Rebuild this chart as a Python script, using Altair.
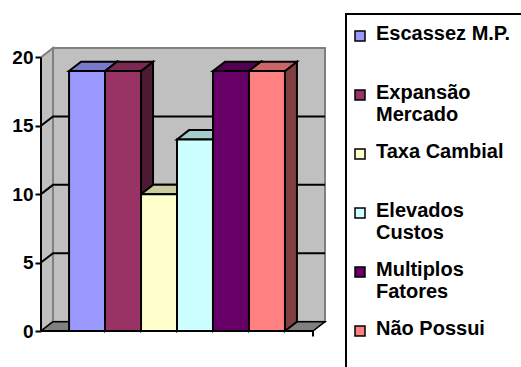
import altair as alt
import pandas as pd

# Survey categories and counts
categories = ["Escassez M.P.", "Expansão Mercado", "Taxa Cambial",
              "Elevados Custos", "Multiplos Fatores", "Não Possui"]
values = [19, 19, 10, 14, 19, 19]

# legend text, one list entry per line
legend_lines = [["Escassez M.P.", " "], ["Expansão", "Mercado"], ["Taxa Cambial", " "],
                ["Elevados", "Custos"], ["Multiplos", "Fatores"], ["Não Possui", " "]]

front_colors = ["#9999FF", "#993366", "#FFFFCC", "#CCFFFF", "#660066", "#FF8080"]
top_colors = ["#7A7ACC", "#7A2952", "#CCCCA3", "#A3CCCC", "#520052", "#CC6666"]
side_colors = ["#4D4D80", "#4D1A33", "#808066", "#668080", "#330033", "#804040"]

y_ticks = [0, 5, 10, 15, 20]

# 3-D look: depth shift of the back plane (x in bar widths, y in value units)
DX = 1 / 3
DY = 0.68
X0, X1 = -0.78, 6.78          # front edge of the floor
Y_TOP = 20
FONT = "Liberation Sans"

# legend swatch: a square lowered so it sits beside the first text line
SWATCH = "M-1,1.4H1V3.4H-1Z"

bars = pd.DataFrame({
    "cat": categories, "v": values,
    "l": range(len(values)),
})
bars["r"] = bars["l"] + 1
bars["base"] = 0

side_rows, top_rows = [], []
for i, (c, v) in enumerate(zip(categories, values)):
    for k in (0, 1):
        side_rows.append({"cat": c, "k": k, "x": i + 1 + k * DX,
                          "y": v + k * DY, "y2": k * DY, "col": side_colors[i]})
        top_rows.append({"cat": c, "k": k, "y": v + k * DY,
                         "x": i + k * DX, "x2": i + 1 + k * DX, "col": top_colors[i]})
side = pd.DataFrame(side_rows)
top = pd.DataFrame(top_rows)

xs = alt.Scale(domain=[X0, X1 + DX], nice=False, zero=False)
ys = alt.Scale(domain=[0, Y_TOP + DY], nice=False, zero=False)
y_axis = alt.Axis(
    values=y_ticks, domain=False, grid=False, ticks=True, tickSize=6,
    tickWidth=2, tickColor="black", labelFont=FONT, labelFontSize=19,
    labelFontWeight="bold", labelColor="black", labelPadding=2, title=None)


def X(f):
    return alt.X(f, type="quantitative", scale=xs, axis=None, stack=None)


def Y(f):
    return alt.Y(f, type="quantitative", scale=ys, axis=y_axis, stack=None)


# walls and floor
left_wall = alt.Chart(pd.DataFrame({
    "x": [X0, X0 + DX], "y": [Y_TOP, Y_TOP + DY], "y2": [0, DY]})).mark_area(
    fill="#C0C0C0", stroke="#808080", strokeWidth=2).encode(
    x=X("x"), y=Y("y"), y2="y2:Q")

back_wall = alt.Chart(pd.DataFrame({
    "x": [X0 + DX], "x2": [X1 + DX], "y": [DY], "y2": [Y_TOP + DY]})).mark_rect(
    fill="#C0C0C0", stroke="#808080", strokeWidth=2).encode(
    x=X("x"), x2="x2:Q", y=Y("y"), y2="y2:Q")

floor = alt.Chart(pd.DataFrame({
    "y": [0, DY], "x": [X0, X0 + DX], "x2": [X1, X1 + DX]})).mark_area(
    orient="horizontal", fill="#808080", stroke="black", strokeWidth=1.5).encode(
    y=Y("y"), x=X("x"), x2="x2:Q")

# gridlines: diagonal on the side wall, then across the back wall
grid_rows = []
for v in y_ticks[1:-1]:
    for k, (gx, gy) in enumerate([(X0, v), (X0 + DX, v + DY), (X1 + DX, v + DY)]):
        grid_rows.append({"v": v, "k": k, "x": gx, "y": gy})
grid = alt.Chart(pd.DataFrame(grid_rows)).mark_line(
    color="black", strokeWidth=2).encode(
    x=X("x"), y=Y("y"), detail="v:N", order="k:Q")

# bars: side faces, top faces, front faces
sides = alt.Chart(side).mark_area(stroke="black", strokeWidth=2, opacity=1).encode(
    x=X("x"), y=Y("y"), y2="y2:Q", detail="cat:N",
    fill=alt.Fill("col:N", scale=None))

tops = alt.Chart(top).mark_area(orient="horizontal", stroke="black",
                                strokeWidth=2, opacity=1).encode(
    y=Y("y"), x=X("x"), x2="x2:Q", detail="cat:N",
    fill=alt.Fill("col:N", scale=None))

label_expr = " : ".join(
    f"datum.label == '{c}' ? {lines!r}" for c, lines in zip(categories, legend_lines)
) + " : datum.label"

fronts = alt.Chart(bars).mark_rect(stroke="black", strokeWidth=2).encode(
    x=X("l"), x2="r:Q", y=Y("base"), y2="v:Q",
    color=alt.Color("cat:N", scale=alt.Scale(domain=categories, range=front_colors),
                    sort=categories,
                    legend=alt.Legend(
                        title=None, orient="none", legendX=309, legendY=-34,
                        symbolType=SWATCH, symbolSize=100,
                        symbolStrokeColor="black", symbolStrokeWidth=1.5,
                        labelFont=FONT, labelFontSize=20, labelFontWeight="bold",
                        labelColor="black", labelBaseline="top", labelOffset=6,
                        labelLimit=300, rowPadding=7, padding=0,
                        labelExpr=label_expr)))

# axis lines
axis_rows = pd.DataFrame({"x": [X0, X0, X1], "y": [0, 0, 0],
                          "x2": [X0, X1, X1], "y2": [Y_TOP, 0, -0.4]})
axes = alt.Chart(axis_rows).mark_rule(color="black", strokeWidth=2).encode(
    x=X("x"), x2="x2:Q", y=Y("y"), y2="y2:Q")

frame = alt.Chart(pd.DataFrame({"a": [0]})).mark_rect(
    fill=None, stroke="black", strokeWidth=2).encode(
    x=alt.value(305), x2=alt.value(500), y=alt.value(-34), y2=alt.value(340))

chart = alt.layer(left_wall, back_wall, floor, grid, sides, tops, fronts, axes, frame).properties(
    width=284, height=283, autosize="none",
    padding={"left": 41, "top": 48, "right": 196, "bottom": 36},
    background="white",
).configure_view(stroke=None)

chart.save("out.html", embed_options={"renderer": "svg", "actions": False})
